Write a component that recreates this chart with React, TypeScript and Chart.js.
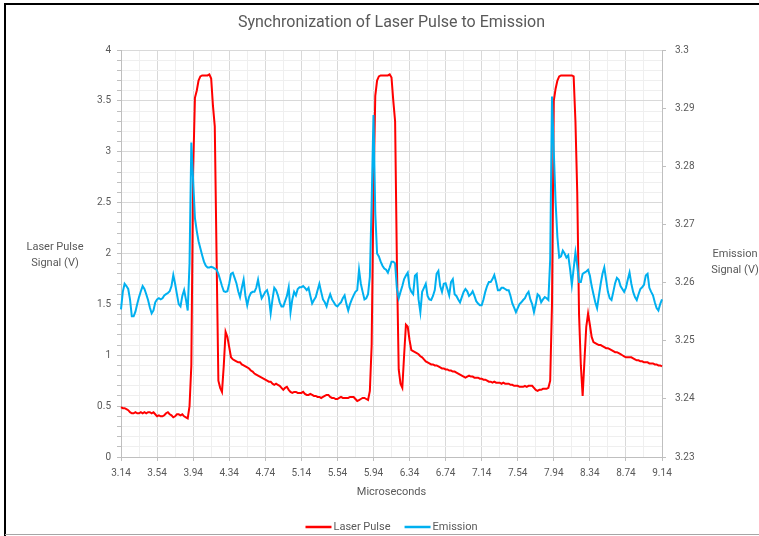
import { useEffect, useRef } from 'react';
import { Chart, registerables } from 'chart.js';

Chart.register(...registerables);

// ---- data -----------------------------------------------------------------
const TITLE = 'Synchronization of Laser Pulse to Emission';
const TIME_START = 3.14; // microseconds
const TIME_STEP = 0.02;

// Laser pulse signal (V) – left axis
const LASER_PULSE: number[] = [
  0.49, 0.48, 0.48, 0.47, 0.46, 0.44, 0.43, 0.43, 0.44, 0.43,
  0.43, 0.44, 0.43, 0.44, 0.43, 0.44, 0.44, 0.43, 0.44, 0.42,
  0.40, 0.41, 0.40, 0.40, 0.41, 0.43, 0.44, 0.42, 0.41, 0.39,
  0.40, 0.42, 0.42, 0.41, 0.42, 0.40, 0.39, 0.38, 0.50, 0.90,
  2.80, 3.53, 3.60, 3.70, 3.74, 3.75, 3.75, 3.75, 3.75, 3.76,
  3.72, 3.45, 3.25, 1.97, 0.75, 0.68, 0.64, 0.90, 1.23, 1.18,
  1.08, 0.98, 0.96, 0.95, 0.94, 0.93, 0.93, 0.91, 0.90, 0.89,
  0.88, 0.87, 0.85, 0.84, 0.82, 0.81, 0.80, 0.79, 0.78, 0.77,
  0.76, 0.75, 0.74, 0.74, 0.72, 0.71, 0.72, 0.71, 0.70, 0.68,
  0.66, 0.68, 0.69, 0.66, 0.64, 0.63, 0.64, 0.64, 0.63, 0.63,
  0.63, 0.64, 0.62, 0.61, 0.61, 0.62, 0.61, 0.60, 0.60, 0.59,
  0.59, 0.58, 0.59, 0.60, 0.61, 0.61, 0.59, 0.58, 0.58, 0.57,
  0.57, 0.58, 0.59, 0.58, 0.58, 0.58, 0.58, 0.59, 0.59, 0.59,
  0.57, 0.55, 0.56, 0.57, 0.58, 0.58, 0.57, 0.56, 0.65, 1.10,
  2.60, 3.55, 3.70, 3.74, 3.75, 3.75, 3.75, 3.75, 3.75, 3.76,
  3.73, 3.50, 3.30, 1.90, 0.86, 0.72, 0.68, 1.00, 1.30, 1.28,
  1.15, 1.05, 1.04, 1.03, 1.02, 1.01, 0.99, 0.98, 0.96, 0.94,
  0.93, 0.92, 0.91, 0.91, 0.90, 0.90, 0.89, 0.88, 0.87, 0.87,
  0.86, 0.86, 0.85, 0.85, 0.84, 0.84, 0.83, 0.82, 0.81, 0.80,
  0.79, 0.78, 0.79, 0.80, 0.79, 0.79, 0.78, 0.78, 0.78, 0.77,
  0.77, 0.76, 0.76, 0.75, 0.74, 0.74, 0.73, 0.74, 0.73, 0.73,
  0.73, 0.72, 0.73, 0.72, 0.72, 0.72, 0.71, 0.71, 0.70, 0.70,
  0.70, 0.69, 0.69, 0.69, 0.70, 0.69, 0.70, 0.70, 0.70, 0.68,
  0.66, 0.65, 0.66, 0.66, 0.67, 0.67, 0.67, 0.68, 0.75, 1.50,
  3.50, 3.62, 3.70, 3.74, 3.75, 3.75, 3.75, 3.75, 3.75, 3.75,
  3.75, 3.74, 3.30, 2.60, 1.40, 0.90, 0.60, 0.95, 1.28, 1.41,
  1.30, 1.18, 1.13, 1.12, 1.11, 1.10, 1.10, 1.09, 1.08, 1.07,
  1.07, 1.06, 1.05, 1.04, 1.03, 1.03, 1.02, 1.01, 1.00, 0.99,
  0.98, 0.98, 0.98, 0.98, 0.97, 0.96, 0.95, 0.95, 0.94, 0.94,
  0.93, 0.93, 0.93, 0.92, 0.92, 0.92, 0.91, 0.91, 0.90, 0.90,
  0.89,
];

// Emission signal (V) – right axis
const EMISSION: number[] = [
  3.2554, 3.2584, 3.2598, 3.2594, 3.2589, 3.2571, 3.2542, 3.2542, 3.2550, 3.2563,
  3.2575, 3.2585, 3.2594, 3.2589, 3.2580, 3.2570, 3.2557, 3.2547, 3.2552, 3.2566,
  3.2571, 3.2573, 3.2571, 3.2573, 3.2578, 3.2580, 3.2582, 3.2585, 3.2594, 3.2613,
  3.2598, 3.2580, 3.2563, 3.2559, 3.2577, 3.2587, 3.2571, 3.2552, 3.2633, 3.2841,
  3.2776, 3.2711, 3.2689, 3.2671, 3.2659, 3.2647, 3.2636, 3.2629, 3.2626, 3.2626,
  3.2627, 3.2626, 3.2624, 3.2622, 3.2615, 3.2605, 3.2594, 3.2585, 3.2584, 3.2585,
  3.2598, 3.2615, 3.2617, 3.2608, 3.2599, 3.2585, 3.2575, 3.2591, 3.2605, 3.2577,
  3.2561, 3.2575, 3.2582, 3.2584, 3.2584, 3.2591, 3.2605, 3.2587, 3.2573, 3.2578,
  3.2584, 3.2587, 3.2575, 3.2547, 3.2571, 3.2591, 3.2587, 3.2578, 3.2566, 3.2559,
  3.2559, 3.2568, 3.2577, 3.2592, 3.2549, 3.2571, 3.2584, 3.2578, 3.2589, 3.2592,
  3.2592, 3.2594, 3.2591, 3.2587, 3.2591, 3.2577, 3.2564, 3.2570, 3.2575, 3.2587,
  3.2598, 3.2584, 3.2571, 3.2566, 3.2559, 3.2571, 3.2580, 3.2571, 3.2566, 3.2561,
  3.2559, 3.2563, 3.2566, 3.2573, 3.2578, 3.2563, 3.2552, 3.2563, 3.2571, 3.2578,
  3.2584, 3.2587, 3.2622, 3.2598, 3.2584, 3.2571, 3.2573, 3.2580, 3.2610, 3.2738,
  3.2888, 3.2720, 3.2650, 3.2645, 3.2636, 3.2629, 3.2624, 3.2622, 3.2617, 3.2626,
  3.2636, 3.2636, 3.2633, 3.2589, 3.2573, 3.2584, 3.2594, 3.2606, 3.2612, 3.2617,
  3.2592, 3.2584, 3.2580, 3.2612, 3.2615, 3.2571, 3.2549, 3.2584, 3.2591, 3.2598,
  3.2577, 3.2571, 3.2570, 3.2577, 3.2587, 3.2615, 3.2620, 3.2594, 3.2584, 3.2598,
  3.2599, 3.2589, 3.2578, 3.2601, 3.2606, 3.2580, 3.2577, 3.2571, 3.2566, 3.2575,
  3.2584, 3.2589, 3.2585, 3.2577, 3.2580, 3.2585, 3.2577, 3.2568, 3.2564, 3.2561,
  3.2561, 3.2571, 3.2584, 3.2594, 3.2601, 3.2601, 3.2606, 3.2613, 3.2601, 3.2587,
  3.2587, 3.2591, 3.2591, 3.2589, 3.2587, 3.2587, 3.2577, 3.2564, 3.2557, 3.2549,
  3.2556, 3.2563, 3.2566, 3.2570, 3.2573, 3.2580, 3.2584, 3.2571, 3.2563, 3.2549,
  3.2563, 3.2580, 3.2577, 3.2566, 3.2571, 3.2575, 3.2573, 3.2570, 3.2640, 3.2920,
  3.2825, 3.2738, 3.2678, 3.2643, 3.2645, 3.2655, 3.2650, 3.2643, 3.2647, 3.2624,
  3.2596, 3.2624, 3.2652, 3.2629, 3.2601, 3.2601, 3.2615, 3.2617, 3.2619, 3.2622,
  3.2612, 3.2594, 3.2580, 3.2566, 3.2556, 3.2577, 3.2598, 3.2615, 3.2626, 3.2605,
  3.2584, 3.2573, 3.2570, 3.2584, 3.2599, 3.2608, 3.2605, 3.2594, 3.2589, 3.2584,
  3.2591, 3.2605, 3.2617, 3.2598, 3.2584, 3.2575, 3.2570, 3.2580, 3.2589, 3.2592,
  3.2596, 3.2612, 3.2615, 3.2591, 3.2584, 3.2578, 3.2566, 3.2556, 3.2552, 3.2563,
  3.2571,
];

const X_TICK_LABELS = [
  '3.14', '3.54', '3.94', '4.34', '4.74', '5.14', '5.54', '5.94',
  '6.34', '6.74', '7.14', '7.54', '7.94', '8.34', '8.74', '9.14',
];
const X_LABEL_EVERY = 20; // samples between labelled ticks

const MICROSECONDS = LASER_PULSE.map((_, i) => (TIME_START + TIME_STEP * i).toFixed(2));

const LEFT_MIN = 0;
const LEFT_MAX = 4;
const RIGHT_MIN = 3.23;
const RIGHT_MAX = 3.3;

// ---- styling --------------------------------------------------------------
const RED = '#FF0000';
const BLUE = '#00B0F0';
const TEXT = '#595959';
const AXIS = '#bfbfbf';
const GRID_MAJOR = '#d9d9d9';
const GRID_MINOR = '#efefef';
const FONT = 'Roboto, "Liberation Sans", sans-serif';

const decorPlugin = {
  id: 'decor',
  afterDraw(chart: any) {
    const { ctx, chartArea } = chart;
    const cx = (chartArea.left + chartArea.right) / 2;
    ctx.save();
    // frame
    ctx.strokeStyle = '#000';
    ctx.lineWidth = 2;
    ctx.beginPath();
    ctx.moveTo(5, 536);
    ctx.lineTo(5, 4);
    ctx.lineTo(759, 4);
    ctx.stroke();
    ctx.strokeStyle = '#a6a6a6';
    ctx.lineWidth = 1;
    ctx.beginPath();
    ctx.moveTo(5, 534.5);
    ctx.lineTo(759, 534.5);
    ctx.stroke();

    ctx.fillStyle = TEXT;
    ctx.textAlign = 'center';
    ctx.textBaseline = 'middle';
    ctx.font = `16px ${FONT}`;
    ctx.fillText(TITLE, cx, 23);

    ctx.font = `11px ${FONT}`;
    ctx.fillText('Laser Pulse', 55, 247);
    ctx.fillText('Signal (V)', 55, 263);
    ctx.fillText('Emission', 735, 254);
    ctx.fillText('Signal (V)', 735, 270);
    ctx.fillText('Microseconds', cx, 492);

    // legend
    const ly = 527;
    const items = [
      { label: 'Laser Pulse', color: RED },
      { label: 'Emission', color: BLUE },
    ];
    const lineW = 26;
    const gap = 2;
    const itemGap = 14;
    const widths = items.map((it) => lineW + gap + ctx.measureText(it.label).width);
    const total = widths.reduce((a, b) => a + b, 0) + itemGap * (items.length - 1);
    let x = cx - total / 2;
    ctx.textAlign = 'left';
    items.forEach((it, i) => {
      ctx.strokeStyle = it.color;
      ctx.lineWidth = 2.5;
      ctx.beginPath();
      ctx.moveTo(x, ly);
      ctx.lineTo(x + lineW, ly);
      ctx.stroke();
      ctx.fillStyle = TEXT;
      ctx.fillText(it.label, x + lineW + gap, ly);
      x += widths[i] + itemGap;
    });
    ctx.restore();
  },
};

export default function App() {
  const canvasRef = useRef<HTMLCanvasElement | null>(null);

  useEffect(() => {
    const canvas = canvasRef.current;
    if (!canvas) return;
    const chart = new Chart(canvas, {
      type: 'line',
      data: {
        labels: MICROSECONDS,
        datasets: [
          {
            label: 'Laser Pulse',
            data: LASER_PULSE,
            borderColor: RED,
            backgroundColor: RED,
            borderWidth: 2,
            pointRadius: 0,
            tension: 0,
            yAxisID: 'y',
            order: 2,
          },
          {
            label: 'Emission',
            data: EMISSION,
            borderColor: BLUE,
            backgroundColor: BLUE,
            borderWidth: 2,
            pointRadius: 0,
            tension: 0,
            yAxisID: 'y1',
            order: 1,
          },
        ],
      },
      options: {
        responsive: false,
        animation: false,
        devicePixelRatio: 1,
        layout: { padding: { top: 50, left: 0, right: 0, bottom: 0 } },
        plugins: {
          legend: { display: false },
          title: { display: false },
          tooltip: { enabled: false },
        },
        scales: {
          x: {
            type: 'category',
            offset: false,
            border: { color: AXIS },
            grid: {
              color: (c: any) =>
                c.index % X_LABEL_EVERY === 0
                  ? GRID_MAJOR
                  : c.index % (X_LABEL_EVERY / 2) === 0
                  ? GRID_MINOR
                  : 'rgba(0,0,0,0)',
              tickColor: (c: any) =>
                c.index % X_LABEL_EVERY === 0 ? AXIS : 'rgba(0,0,0,0)',
              tickLength: 4,
            },
            ticks: {
              autoSkip: false,
              maxRotation: 0,
              minRotation: 0,
              padding: 6,
              color: TEXT,
              font: { family: FONT, size: 10 },
              callback: (_v: any, i: number) =>
                i % X_LABEL_EVERY === 0 ? X_TICK_LABELS[i / X_LABEL_EVERY] : '',
            },
            afterFit: (s: any) => {
              s.height = 79;
            },
          },
          y: {
            type: 'linear',
            position: 'left',
            min: LEFT_MIN,
            max: LEFT_MAX,
            border: { color: AXIS },
            grid: {
              color: (c: any) =>
                c.tick && Math.round(c.tick.value * 10) % 5 === 0 ? GRID_MAJOR : GRID_MINOR,
              tickColor: AXIS,
              tickLength: 4,
            },
            ticks: {
              stepSize: 0.1,
              autoSkip: false,
              padding: 6,
              color: TEXT,
              font: { family: FONT, size: 10 },
              callback: (v: any) => {
                const r = Math.round(Number(v) * 10);
                return r % 5 === 0 ? String(r / 10) : '';
              },
            },
            afterFit: (s: any) => {
              s.width = 121;
            },
          },
          y1: {
            type: 'linear',
            position: 'right',
            min: RIGHT_MIN,
            max: RIGHT_MAX,
            border: { color: AXIS },
            grid: { drawOnChartArea: false, tickColor: AXIS, tickLength: 4 },
            ticks: {
              stepSize: 0.01,
              autoSkip: false,
              padding: 9,
              color: TEXT,
              font: { family: FONT, size: 10 },
              callback: (v: any) => String(Number(Number(v).toFixed(2))),
            },
            afterFit: (s: any) => {
              s.width = 97;
            },
          },
        },
      },
      plugins: [decorPlugin],
    });
    return () => chart.destroy();
  }, []);

  return (
    <div style={{ position: 'fixed', left: 0, top: 0, width: 759, height: 536, background: '#fff' }}>
      <canvas ref={canvasRef} width={759} height={536} />
    </div>
  );
}
